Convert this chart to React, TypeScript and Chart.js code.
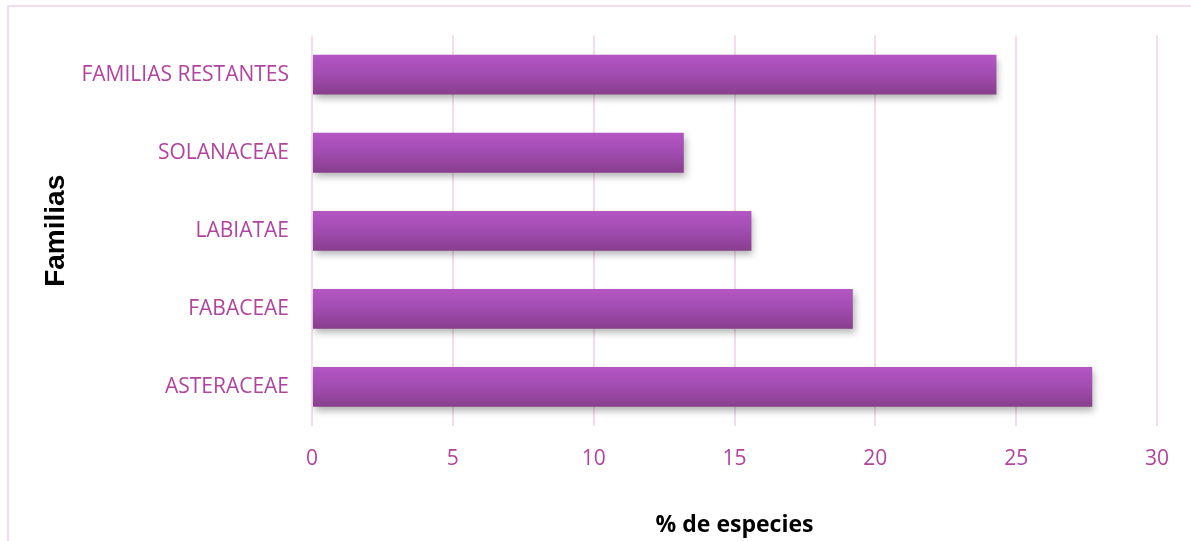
import React, { useEffect, useRef } from "react";
import { Chart, registerables } from "chart.js";

Chart.register(...registerables);

const categories = ["FAMILIAS RESTANTES", "SOLANACEAE", "LABIATAE", "FABACEAE", "ASTERACEAE"];
const percentValues = [24.3, 13.2, 15.6, 19.2, 27.7];
const xTickValues = [0, 5, 10, 15, 20, 25, 30];

const PINK_GRID = "#f3dcec";
const LABEL_COLOR = "#b0449f";
const BAR_FRACTION = 0.51;

const frameAndShadow = {
  id: "frameAndShadow",
  beforeDraw(chart: any) {
    const ctx = chart.ctx;
    ctx.save();
    ctx.fillStyle = "#ffffff";
    ctx.fillRect(0, 0, chart.width, chart.height);
    ctx.strokeStyle = PINK_GRID;
    ctx.lineWidth = 2;
    ctx.strokeRect(8, 6, chart.width + 40, chart.height + 40);
    ctx.restore();
  },
  beforeDatasetsDraw(chart: any) {
    const ctx = chart.ctx;
    ctx.save();
    ctx.shadowColor = "rgba(0,0,0,0.3)";
    ctx.shadowBlur = 7;
    ctx.shadowOffsetX = 2;
    ctx.shadowOffsetY = 4;
  },
  afterDatasetsDraw(chart: any) {
    chart.ctx.restore();
  },
};

export default function App() {
  const ref = useRef<HTMLCanvasElement | null>(null);

  useEffect(() => {
    document.body.style.margin = "0";
    const canvas = ref.current!;
    const chart = new Chart(canvas, {
      type: "bar",
      data: {
        labels: categories,
        datasets: [
          {
            data: percentValues,
            backgroundColor: (c: any) => {
              const chartObj = c.chart;
              const ys = chartObj.scales && chartObj.scales.y;
              if (!ys || c.dataIndex === undefined || !chartObj.chartArea) return "#9e4aae";
              const center = ys.getPixelForValue(c.dataIndex);
              const half = ((ys.bottom - ys.top) / categories.length) * BAR_FRACTION / 2;
              const g = chartObj.ctx.createLinearGradient(0, center - half, 0, center + half);
              g.addColorStop(0, "#b456c4");
              g.addColorStop(0.5, "#a14cb0");
              g.addColorStop(1, "#883e8c");
              return g;
            },
            borderWidth: 0,
            categoryPercentage: BAR_FRACTION,
            barPercentage: 1,
          },
        ],
      },
      options: {
        indexAxis: "y",
        animation: false,
        responsive: false,
        maintainAspectRatio: false,
        layout: { padding: { left: 0, top: 34, right: 34, bottom: 0 } },
        plugins: {
          legend: { display: false },
          tooltip: { enabled: false },
        },
        scales: {
          x: {
            min: 0,
            max: 30,
            afterBuildTicks: (s: any) => {
              s.ticks = xTickValues.map((v) => ({ value: v }));
            },
            afterFit: (s: any) => {
              s.height = 541 - 426;
            },
            grid: {
              color: PINK_GRID,
              lineWidth: 2,
              drawTicks: false,
            },
            border: { display: false },
            ticks: {
              color: LABEL_COLOR,
              padding: 20,
              font: { family: "'Open Sans'", size: 21 },
            },
            title: {
              display: true,
              text: "% de especies",
              color: "#000000",
              font: { family: "'Open Sans'", size: 23, weight: "bold" },
              padding: { top: 0, bottom: 2 },
            },
          },
          y: {
            afterFit: (s: any) => {
              s.width = 312;
            },
            grid: { display: false, drawTicks: false },
            border: { display: false },
            ticks: {
              color: LABEL_COLOR,
              padding: 23,
              font: { family: "'Open Sans'", size: 21 },
            },
            title: {
              display: true,
              text: "Familias",
              color: "#000000",
              font: { family: "'Liberation Sans'", size: 28, weight: "bold" },
              padding: { top: 39, bottom: 0 },
            },
          },
        },
      },
      plugins: [frameAndShadow],
    } as any);
    return () => chart.destroy();
  }, []);

  return (
    <div style={{ width: 1191, height: 541 }}>
      <canvas ref={ref} width={1191} height={541} style={{ display: "block" }} />
    </div>
  );
}
